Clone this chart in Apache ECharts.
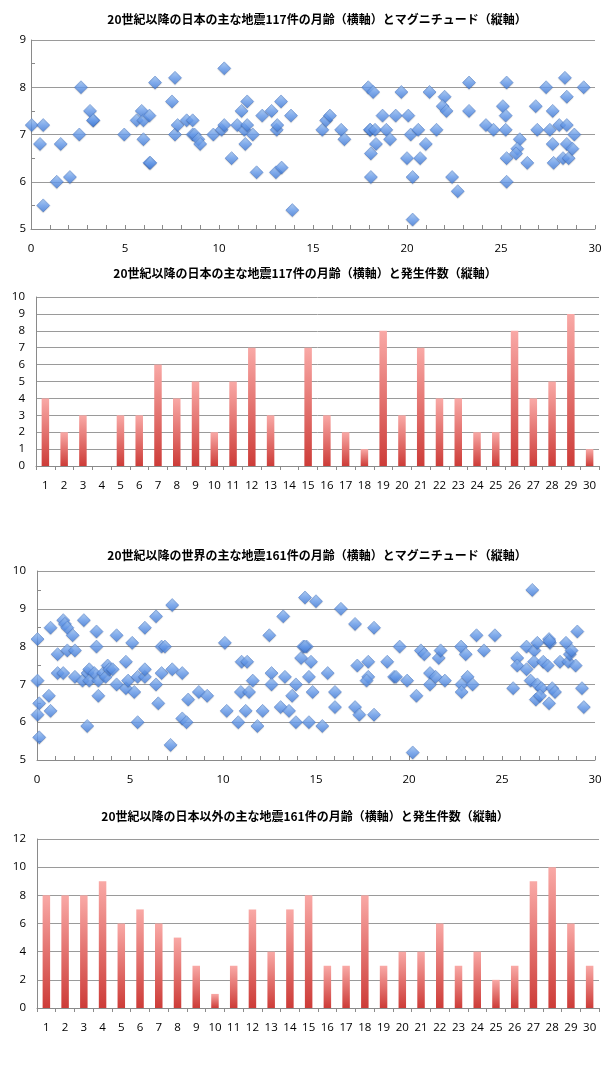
<!DOCTYPE html>
<html><head><meta charset="utf-8">
<script src="https://cdn.jsdelivr.net/npm/echarts/dist/echarts.min.js"></script>
<style>html,body{margin:0;padding:0;background:#fff}#c{width:613px;height:1068px}</style>
</head><body><div id="c"></div><script>
// ---- Data ----
const titles = [
  '20世紀以降の日本の主な地震117件の月齢（横軸）とマグニチュード（縦軸）',
  '20世紀以降の日本の主な地震117件の月齢（横軸）と発生件数（縦軸）',
  '20世紀以降の世界の主な地震161件の月齢（横軸）とマグニチュード（縦軸）',
  '20世紀以降の日本以外の主な地震161件の月齢（横軸）と発生件数（縦軸）'
];
const japanAge = [0.04,0.48,0.65,0.65,1.37,1.58,2.07,2.57,2.66,3.14,3.32,3.3,
  4.96,5.62,5.89,5.98,5.98,6.3,6.3,6.35,6.6,
  7.5,7.66,7.66,7.8,8.28,8.6,8.6,8.7,8.9,9.0,9.7,
  10.14,10.28,10.28,10.67,10.97,11.2,11.35,11.5,11.5,11.4,11.8,12.0,12.3,12.8,
  13.07,13.1,13.03,13.33,13.3,13.83,13.9,
  15.5,15.7,15.9,16.5,16.67,
  17.94,18.2,18.03,18.05,18.3,18.35,18.08,18.08,18.7,18.9,19.1,19.4,19.7,
  20.07,20.2,20.0,20.3,20.3,20.6,20.7,21.0,21.2,21.57,
  22.0,21.9,22.1,22.4,22.7,23.3,23.3,
  24.2,24.6,25.1,25.25,25.25,25.3,25.3,25.3,
  26.0,25.87,25.8,26.4,26.85,26.93,
  27.4,27.6,27.75,27.75,27.8,
  28.1,28.3,28.4,28.5,28.5,28.5,28.6,28.8,28.9,29.4];
const japanMag = [7.2,6.8,7.2,5.5,6.0,6.8,6.1,7.0,8.0,7.5,7.3,7.3,
  7.0,7.3,7.5,7.3,6.9,7.4,6.4,6.4,8.1,
  7.7,8.2,7.0,7.2,7.3,7.3,7.0,7.0,6.9,6.8,7.0,
  7.1,7.2,8.4,6.5,7.2,7.5,7.1,7.2,7.7,6.8,7.0,6.2,7.4,7.5,
  7.1,7.2,6.2,6.3,7.7,7.4,5.4,
  7.1,7.3,7.4,7.1,6.9,
  8.0,7.9,7.1,7.1,7.1,6.8,6.6,6.1,7.4,7.1,6.9,7.4,7.9,
  7.4,7.0,6.5,6.1,5.2,7.1,6.5,6.8,7.9,7.1,
  7.8,7.6,7.5,6.1,5.8,7.5,8.1,
  7.2,7.1,7.6,7.4,7.1,8.1,6.5,6.0,
  6.9,6.7,6.6,6.4,7.6,7.1,
  8.0,7.1,7.5,6.8,6.4,
  7.2,6.5,8.2,7.8,7.2,6.8,6.5,6.7,7.0,8.0];
const worldAge = [0.03,0.03,0.12,0.03,0.12,0.64,0.73,0.73,1.11,1.11,1.41,1.41,1.5,1.63,1.63,1.92,2.04,2.04,
  2.45,2.52,2.7,2.72,2.81,2.81,3.08,3.2,3.2,3.3,3.3,3.56,3.69,3.8,3.89,4.07,4.28,4.28,
  4.78,4.78,4.9,5.12,5.23,5.41,5.41,5.8,5.8,5.8,6.4,6.4,6.52,6.7,6.7,6.88,7.27,7.27,7.18,
  7.81,7.81,8.04,8.13,8.7,9.15,10.1,10.2,
  10.82,11.0,11.3,10.96,11.4,11.22,11.6,11.85,12.13,12.49,12.61,12.61,13.1,13.24,13.33,13.55,
  13.72,13.92,13.92,14.2,14.32,14.5,14.4,14.41,14.73,14.62,14.82,14.62,15.0,15.34,15.63,16.02,16.02,
  16.34,17.1,17.1,17.33,17.22,17.81,17.81,17.72,18.12,18.12,18.83,19.2,19.3,19.5,19.9,20.4,20.2,
  20.64,20.82,21.13,21.13,21.43,21.6,21.7,21.93,22.8,23.05,22.83,22.83,23.15,23.42,23.63,24.03,24.62,
  25.6,25.82,25.82,26.32,26.32,26.63,26.74,26.9,26.72,26.54,26.9,27.12,26.82,27.04,27.22,27.46,
  27.53,27.58,27.55,27.53,27.7,27.85,28.12,28.44,28.57,28.65,28.74,28.96,29.05,29.3,29.4];
const worldMag = [8.2,7.1,6.5,6.2,5.6,6.7,6.3,8.5,7.8,7.3,7.3,8.7,8.6,8.5,7.9,8.3,7.9,7.2,
  7.1,8.7,5.9,7.3,7.4,7.1,7.3,8.4,8.0,7.1,6.7,7.3,7.2,7.5,7.4,7.4,8.3,7.0,
  7.6,6.9,7.1,8.1,6.8,7.2,6.0,8.5,7.2,7.4,8.8,7.0,6.5,7.3,8.0,8.0,9.1,7.4,5.4,
  7.3,6.1,6.0,6.6,6.8,6.7,8.1,6.3,
  6.0,7.6,7.6,6.8,6.8,6.3,7.1,5.9,6.3,8.3,7.3,7.0,6.4,8.8,7.2,6.3,
  6.7,7.0,6.0,7.7,8.0,8.0,8.0,9.3,7.6,7.2,6.8,6.0,9.2,5.9,7.3,6.8,6.4,
  9.0,8.6,6.4,6.2,7.5,7.6,7.2,7.1,8.5,6.2,7.6,7.2,7.2,8.0,7.1,6.7,5.2,
  7.9,7.8,7.3,7.0,7.2,7.7,7.9,7.1,8.0,7.8,7.0,6.8,7.2,7.0,8.3,7.9,8.3,
  6.9,7.7,7.5,8.0,7.4,9.5,7.9,8.1,7.6,7.1,7.0,6.9,6.6,6.7,7.6,7.5,
  8.2,8.1,8.15,6.5,6.9,6.8,7.6,8.1,7.6,7.8,7.9,7.5,8.4,6.9,6.4];
const moonDays = ['1','2','3','4','5','6','7','8','9','10','11','12','13','14','15',
  '16','17','18','19','20','21','22','23','24','25','26','27','28','29','30'];
const japanCounts = [4,2,3,0,3,3,6,4,5,2,5,7,3,0,7,3,2,1,8,3,7,4,4,2,2,8,4,5,9,1];
const nonJapanCounts = [8,8,8,9,6,7,6,5,3,1,3,7,4,7,8,3,3,8,3,4,4,6,3,4,2,3,9,10,6,3];

// ---- Styles ----
const FONT = 'Open Sans, Liberation Sans, sans-serif';
const labelStyle = (margin) => ({fontFamily: FONT, fontSize: 11.5, color: '#000', margin: margin});
const axisLine = {show: true, onZero: false, lineStyle: {color: '#8a8a8a', width: 1}};
const split = {show: true, lineStyle: {color: '#9a9a9a', width: 1}};
const diamondColor = new echarts.graphic.LinearGradient(0, 0, 0, 1, [
  {offset: 0, color: '#a6cbf8'}, {offset: 0.5, color: '#6a9ff0'}, {offset: 1, color: '#3f7ad6'}]);
const barColor = new echarts.graphic.LinearGradient(0, 0, 0, 1, [
  {offset: 0, color: '#f9a9a6'}, {offset: 1, color: '#cd3c38'}]);
const zip = (a, b) => a.map((v, i) => [v, b[i]]);

const scatterX = (idx) => ({
  type: 'value', gridIndex: idx, min: 0, max: 30, interval: 1,
  axisLine: axisLine, splitLine: {show: false},
  axisTick: {show: true, inside: true, length: 4, lineStyle: {color: '#8a8a8a'}},
  axisLabel: Object.assign(labelStyle(14), {formatter: v => (v % 5 === 0 ? String(v) : '')})
});
const scatterY = (idx, min, max, margin) => ({
  type: 'value', gridIndex: idx, min: min, max: max, interval: 1,
  axisLine: axisLine, splitLine: split,
  axisTick: {show: false, inside: true},
  minorTick: {show: true, splitNumber: 2, length: 4, lineStyle: {color: '#8a8a8a'}},
  axisLabel: labelStyle(margin)
});
const barX = (idx) => ({
  type: 'category', gridIndex: idx, data: moonDays, boundaryGap: true,
  axisLine: axisLine, splitLine: {show: false},
  axisTick: {show: true, length: 4, alignWithLabel: false, lineStyle: {color: '#8a8a8a'}},
  axisLabel: Object.assign(labelStyle(14), {interval: 0})
});
const barY = (idx, max, interval) => ({
  type: 'value', gridIndex: idx, min: 0, max: max, interval: interval,
  axisLine: axisLine, splitLine: split, axisTick: {show: false},
  axisLabel: labelStyle(11)
});
const titleAt = (i, left, top) => ({
  text: titles[i], left: left, top: top, textAlign: 'center', padding: 0,
  textStyle: {fontFamily: 'Noto Sans CJK JP', fontSize: 12, fontWeight: 'bold', color: '#000'}
});
const scatterSeries = (idx, data) => ({
  type: 'scatter', xAxisIndex: idx, yAxisIndex: idx, data: data,
  symbol: 'diamond', symbolSize: [13, 13],
  itemStyle: {color: diamondColor, borderColor: '#3a6cc0', borderWidth: 0.6,
    shadowColor: 'rgba(0,0,0,0.18)', shadowBlur: 1, shadowOffsetY: 1},
  emphasis: {disabled: true}
});
const barSeries = (idx, data) => ({
  type: 'bar', xAxisIndex: idx, yAxisIndex: idx, data: data, barWidth: 7.5,
  itemStyle: {color: barColor}, emphasis: {disabled: true}
});

const chart = echarts.init(document.getElementById('c'), null, {renderer: 'canvas'});
chart.setOption({
  animation: false,
  backgroundColor: '#fff',
  title: [titleAt(0, 317, 13), titleAt(1, 305, 267), titleAt(2, 317, 549), titleAt(3, 305, 810)],
  grid: [
    {left: 31, top: 40, width: 564, height: 189},
    {left: 36, top: 297, width: 563, height: 169},
    {left: 37, top: 571, width: 558, height: 189},
    {left: 37, top: 839, width: 562, height: 169}
  ],
  xAxis: [scatterX(0), barX(1), scatterX(2), barX(3)],
  yAxis: [scatterY(0, 5, 9, 5), barY(1, 10, 1), scatterY(2, 5, 10, 11), barY(3, 12, 2)],
  series: [
    scatterSeries(0, zip(japanAge, japanMag)),
    barSeries(1, japanCounts),
    scatterSeries(2, zip(worldAge, worldMag)),
    barSeries(3, nonJapanCounts)
  ]
});
</script></body></html>
